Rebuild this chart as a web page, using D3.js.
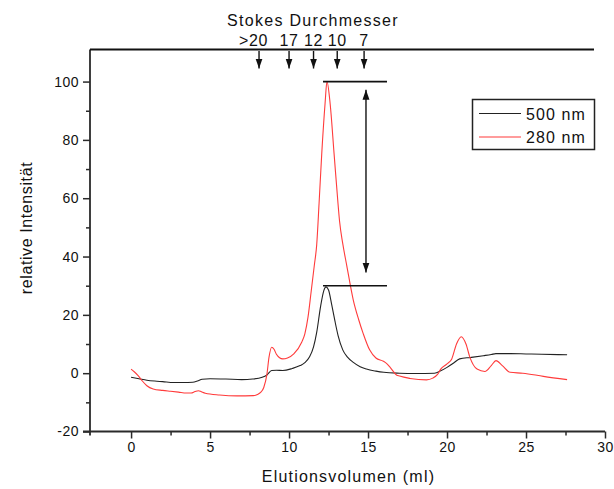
<!DOCTYPE html>
<html>
<head>
<meta charset="utf-8">
<script src="https://cdn.jsdelivr.net/npm/d3@7"></script>
<style>
  body { margin: 0; background: #fff; }
  text { font-family: Arial, "Liberation Sans", sans-serif; fill: #111; }
</style>
</head>
<body>
<svg id="chart" width="614" height="489"></svg>
<script>
// Elutionsprofil, Absorption bei 500 nm und 280 nm
const vol500 = [0, 0.5, 1.0, 1.5, 2.0, 2.7, 3.3, 3.9, 4.2, 4.5, 5.0, 6.0, 7.0, 7.7, 8.3, 8.6, 8.9, 9.2, 9.6, 10.2,
  10.7, 11.0, 11.3, 11.55, 11.75, 12.0, 12.2, 12.34, 12.5, 12.7, 12.9, 13.1, 13.4, 13.7, 14.07, 14.5, 14.9, 15.5,
  16.0, 17.0, 18.0, 19.2, 19.6, 20.0, 20.4, 20.8, 21.5, 22.3, 22.8, 23.1, 24.0, 25.0, 26.0, 27.6];
const int500 = [-1.4, -1.9, -2.4, -2.7, -2.9, -3.2, -3.2, -3.1, -2.7, -2.1, -1.9, -2.0, -2.2, -2.0, -1.4, -0.6, 0.9, 1.0, 0.9, 1.6,
  2.6, 3.6, 5.6, 9.0, 14.0, 23.0, 28.3, 29.6, 28.5, 23.5, 18.0, 13.0, 8.0, 5.5, 3.7, 2.2, 1.4, 0.7,
  0.3, 0.0, -0.1, 0.0, 0.8, 2.0, 3.4, 4.9, 5.4, 6.0, 6.4, 6.7, 6.7, 6.6, 6.5, 6.3];

const vol280 = [0, 0.2, 0.46, 0.7, 1.0, 1.4, 2.0, 2.5, 3.0, 3.5, 3.8, 4.05, 4.26, 4.45, 4.7, 5.6, 6.7, 7.74, 8.0, 8.2,
  8.4, 8.6, 8.73, 8.9, 9.05, 9.2, 9.4, 9.6, 9.9, 10.3, 10.8, 11.0, 11.2, 11.4, 11.6, 11.75, 11.9, 12.07, 12.28, 12.4,
  12.6, 12.85, 13.1, 13.2, 13.4, 13.65, 14.07, 14.4, 14.7, 15.1, 15.5, 15.97, 16.2, 16.4, 16.8, 17.0, 17.66, 18.7,
  19.1, 19.4, 19.6, 20.0, 20.3, 20.6, 20.9, 21.2, 21.45, 21.9, 22.4, 22.8, 23.1, 23.5, 24.0, 24.8, 26.1, 27.6];
const int280 = [1.4, 0.5, -0.9, -2.6, -4.3, -5.4, -5.9, -6.2, -6.5, -6.8, -6.8, -6.3, -6.0, -6.4, -6.9, -7.5, -7.8, -7.7, -7.3, -6.6,
  -4.9, -0.3, 5.4, 8.9, 8.2, 6.5, 5.3, 4.9, 5.2, 6.6, 10.6, 13.5, 19.2, 28.0, 37.0, 44.0, 58.2, 75.3, 92.5, 100.0,
  92.5, 75.3, 58.1, 52.0, 44.4, 37.0, 25.0, 18.5, 13.5, 8.0, 5.2, 4.1, 3.2, 2.0, -0.6, -1.0, -1.8, -2.3,
  -1.7, -0.4, 1.4, 3.2, 4.9, 10.0, 12.5, 10.0, 5.4, 1.4, 0.6, 2.6, 4.3, 2.6, 0.3, 0.0, -1.1, -2.2];

// Stokes-Durchmesser oberhalb der Achse
const stokesVol = [8.1, 10.0, 11.55, 13.05, 14.75];
const stokesLabels = [">20", "17", "12", "10", "7"];

// Markierung der Peakhöhen
const peakLevels = [100, 30];
const peakSpan = [12.15, 16.2];
const ratioArrowVol = 14.87;
const ratioArrowEnds = [97.2, 34.5];

const xTicks = [0, 5, 10, 15, 20, 25, 30];
const xMinor = [2.5, 7.5, 12.5, 17.5, 22.5, 27.5];
const yTicks = [-20, 0, 20, 40, 60, 80, 100];
const yMinor = [-10, 10, 30, 50, 70, 90];

const series = [
  { name: "500 nm", color: "#222", vol: vol500, val: int500 },
  { name: "280 nm", color: "#ff3b3b", vol: vol280, val: int280 }
];

const svg = d3.select("#chart");
const plotLeft = 90, plotRight = 605, plotTop = 49.5, plotBottom = 431.5;
const axisColor = "#2a2a2a";

const x = d3.scaleLinear().domain([-2.6, 30]).range([plotLeft, plotRight]);
const y = d3.scaleLinear().domain([-20, 111]).range([plotBottom, plotTop]);

// Pfeilspitzen
const defs = svg.append("defs");
defs.append("marker")
  .attr("id", "head")
  .attr("viewBox", "0 0 10 10")
  .attr("refX", 10).attr("refY", 5)
  .attr("markerWidth", 10).attr("markerHeight", 10)
  .attr("markerUnits", "userSpaceOnUse")
  .attr("orient", "auto-start-reverse")
  .append("path")
  .attr("d", "M0,1.5 L10,5 L0,8.5 Z")
  .attr("fill", "#111");

// Achsen (Bindestrich statt Minuszeichen wie im Original)
const plain = d => String(d);
const xAxis = svg.append("g").attr("transform", `translate(0,${plotBottom})`)
  .call(d3.axisBottom(x).tickValues(xTicks).tickSize(7).tickSizeOuter(0).tickFormat(plain));
svg.append("g").attr("transform", `translate(0,${plotBottom})`)
  .call(d3.axisBottom(x).tickValues(xMinor).tickSize(4).tickFormat(""));

const yAxis = svg.append("g").attr("transform", `translate(${plotLeft},0)`)
  .call(d3.axisLeft(y).tickValues(yTicks).tickSize(7).tickSizeOuter(0).tickFormat(plain));
svg.append("g").attr("transform", `translate(${plotLeft},0)`)
  .call(d3.axisLeft(y).tickValues(yMinor).tickSize(4).tickFormat(""));

svg.selectAll(".domain").remove();
svg.selectAll(".tick line").attr("stroke", axisColor).attr("stroke-width", 1.5);
svg.selectAll(".tick text")
  .style("font-family", "Arial, 'Liberation Sans', sans-serif")
  .style("font-size", "14px")
  .style("letter-spacing", "0.5px")
  .attr("fill", "#111");
xAxis.selectAll(".tick text").attr("y", 11);
yAxis.selectAll(".tick text").attr("x", -11);

// Achsenlinien (überstehend wie im Original)
svg.append("line")
  .attr("x1", plotLeft - 7).attr("x2", plotRight).attr("y1", plotBottom).attr("y2", plotBottom)
  .attr("stroke", axisColor).attr("stroke-width", 1.8);
svg.append("line")
  .attr("x1", plotLeft).attr("x2", plotLeft).attr("y1", plotTop).attr("y2", plotBottom + 4)
  .attr("stroke", axisColor).attr("stroke-width", 1.8);
svg.append("line")
  .attr("x1", plotLeft).attr("x2", 594).attr("y1", plotTop).attr("y2", plotTop)
  .attr("stroke", "#111").attr("stroke-width", 1.8);

// Kurven
const line = d3.line()
  .x(d => x(d[0]))
  .y(d => y(d[1]))
  .curve(d3.curveMonotoneX);

series.forEach(s => {
  svg.append("path")
    .datum(s.vol.map((v, i) => [v, s.val[i]]))
    .attr("d", line)
    .attr("fill", "none")
    .attr("stroke", s.color)
    .attr("stroke-width", 1.1);
});

// Peakmarken
peakLevels.forEach(p => {
  svg.append("line")
    .attr("x1", x(peakSpan[0])).attr("x2", x(peakSpan[1]))
    .attr("y1", y(p)).attr("y2", y(p))
    .attr("stroke", "#111").attr("stroke-width", 1.6);
});
svg.append("line")
  .attr("x1", x(ratioArrowVol)).attr("x2", x(ratioArrowVol))
  .attr("y1", y(ratioArrowEnds[0])).attr("y2", y(ratioArrowEnds[1]))
  .attr("stroke", "#111").attr("stroke-width", 1.4)
  .attr("marker-start", "url(#head)")
  .attr("marker-end", "url(#head)");

// Stokes-Pfeile
stokesVol.forEach((v, i) => {
  svg.append("line")
    .attr("x1", x(v)).attr("x2", x(v))
    .attr("y1", plotTop + 1.5).attr("y2", plotTop + 19)
    .attr("stroke", "#111").attr("stroke-width", 1.4)
    .attr("marker-end", "url(#head)");
  const t = svg.append("text")
    .attr("y", 46)
    .style("font-size", "16px")
    .style("letter-spacing", "0.6px")
    .text(stokesLabels[i]);
  if (stokesLabels[i].startsWith(">")) {
    t.attr("x", x(v) + 9).attr("text-anchor", "end");
  } else {
    t.attr("x", x(v)).attr("text-anchor", "middle");
  }
});

svg.append("text")
  .attr("x", 313).attr("y", 26)
  .attr("text-anchor", "middle")
  .style("font-size", "16px")
  .style("letter-spacing", "1.3px")
  .text("Stokes Durchmesser");

// Achsentitel
svg.append("text")
  .attr("x", (plotLeft + plotRight) / 2 + 1).attr("y", 482)
  .attr("text-anchor", "middle")
  .style("font-size", "16px")
  .style("letter-spacing", "1.2px")
  .text("Elutionsvolumen (ml)");

svg.append("text")
  .attr("transform", "translate(32,228) rotate(-90)")
  .attr("text-anchor", "middle")
  .style("font-size", "16px")
  .style("letter-spacing", "0.6px")
  .text("relative Intensität");

// Legende
const legend = svg.append("g");
legend.append("rect")
  .attr("x", 472.5).attr("y", 99.5).attr("width", 122).attr("height", 50)
  .attr("fill", "#fff").attr("stroke", "#222").attr("stroke-width", 1.5);
series.forEach((s, i) => {
  const ly = 113.5 + i * 23.5;
  legend.append("line")
    .attr("x1", 479).attr("x2", 521).attr("y1", ly).attr("y2", ly)
    .attr("stroke", s.color).attr("stroke-width", 1.1);
  legend.append("text")
    .attr("x", 526).attr("y", ly + 6)
    .style("font-size", "16px")
    .style("letter-spacing", "1.1px")
    .text(s.name);
});
</script>
</body>
</html>
